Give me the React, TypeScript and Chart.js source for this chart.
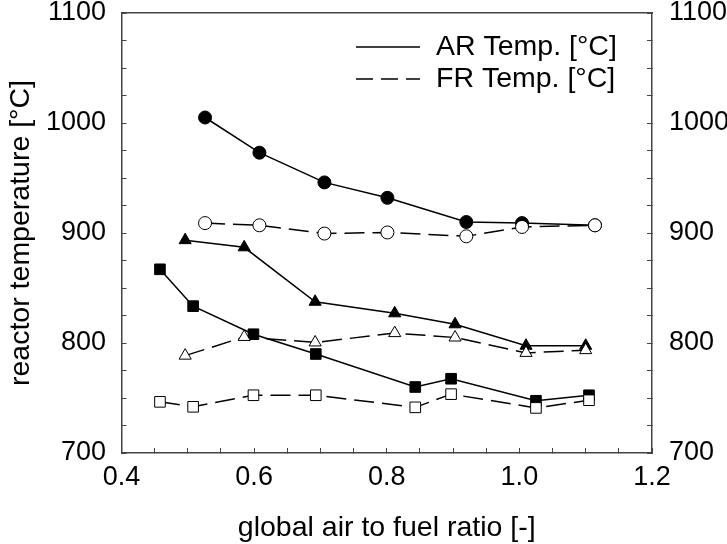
import React, { useEffect, useRef } from 'react';
import { Chart, registerables } from 'chart.js';

Chart.register(...registerables);

// ---- Data ----
const circleX = [0.526, 0.608, 0.706, 0.801, 0.92, 1.004, 1.114];
const arCircleY = [1005, 973, 946, 932, 910, 909, 907];
const frCircleY = [909, 907, 899.5, 900.5, 897, 905.5, 907];

const triangleX = [0.496, 0.585, 0.692, 0.812, 0.903, 1.01, 1.1];
const arTriangleY = [893.5, 887, 837.5, 827, 817, 797.5, 797.5];
const frTriangleY = [788.5, 805.5, 800.5, 809, 805, 791, 793.5];

const squareX = [0.458, 0.508, 0.599, 0.693, 0.843, 0.897, 1.025, 1.105];
const arSquareY = [867, 833.5, 808, 790, 760, 767.5, 747.5, 752.5];
const frSquareY = [746.5, 742, 752.5, 752.5, 741.5, 753.5, 741, 748];

const legendLabels = ['AR Temp. [°C]', 'FR Temp. [°C]'];
const xTitle = 'global air to fuel ratio [-]';
const yTitle = 'reactor temperature [°C]';
const xMin = 0.4, xMax = 1.2, xStep = 0.05, xMajor = 0.2;
const yMin = 700, yMax = 1100, yStep = 25, yMajor = 100;

const FONT = '"Liberation Sans", Arial, sans-serif';
const AXIS_COLOR = '#444';
const DASH = [20, 8];

const zip = (xs: number[], ys: number[]) => xs.map((x, i) => ({ x, y: ys[i] }));

function series(xs: number[], ys: number[], style: string, filled: boolean, dashed: boolean, radius: number) {
  return {
    data: zip(xs, ys),
    borderColor: '#000',
    borderWidth: 1.5,
    borderDash: dashed ? DASH : [],
    pointStyle: style,
    pointRadius: radius,
    pointHoverRadius: radius,
    pointBackgroundColor: filled ? '#000' : '#fff',
    pointBorderColor: '#000',
    pointBorderWidth: 1,
    tension: 0,
    fill: false,
    order: dashed ? 0 : 1,
  };
}

const isMajor = (v: number, m: number) => Math.abs(v / m - Math.round(v / m)) < 1e-6;

const insideLegend = {
  id: 'insideLegend',
  afterDraw(chart: any) {
    const ctx = chart.ctx;
    ctx.save();
    ctx.font = `28.5px ${FONT}`;
    ctx.fillStyle = '#000';
    ctx.strokeStyle = '#000';
    ctx.lineWidth = 1.5;
    ctx.textBaseline = 'middle';
    legendLabels.forEach((label, i) => {
      const y = 47 + i * 32;
      ctx.setLineDash(i === 0 ? [] : [17, 8]);
      ctx.beginPath();
      ctx.moveTo(356, y);
      ctx.lineTo(420, y);
      ctx.stroke();
      ctx.setLineDash([]);
      ctx.fillText(label, 436, y);
    });
    ctx.restore();
  },
};

export default function App() {
  const ref = useRef<HTMLCanvasElement>(null);
  useEffect(() => {
    const tickFont = { family: FONT, size: 27 };
    const titleFont = { family: FONT, size: 28.5, lineHeight: 1.1 };
    const yTicks = (padding: number) => ({
      stepSize: yStep,
      autoSkip: false,
      font: tickFont,
      color: '#000',
      padding,
      callback: (v: any) => (isMajor(Number(v), yMajor) ? String(Math.round(Number(v))) : ''),
    });
    const grid = { drawOnChartArea: false, drawTicks: true, tickLength: -5, color: AXIS_COLOR, lineWidth: 1 };
    const border = { display: true, color: AXIS_COLOR, width: 1.5 };
    const fitY = (w: number) => (s: any) => {
      s.width = w;
      s.paddingTop = 0;
      s.paddingBottom = 0;
    };
    const chart = new Chart(ref.current as HTMLCanvasElement, {
      type: 'line',
      data: {
        datasets: [
          series(circleX, arCircleY, 'circle', true, false, 6.5),
          series(triangleX, arTriangleY, 'triangle', true, false, 7),
          series(squareX, arSquareY, 'rect', true, false, 7.5),
          series(circleX, frCircleY, 'circle', false, true, 6.5),
          series(triangleX, frTriangleY, 'triangle', false, true, 7),
          series(squareX, frSquareY, 'rect', false, true, 7.5),
        ] as any,
      },
      options: {
        responsive: false,
        animation: false,
        events: [],
        layout: { padding: { top: 13, left: 0, right: 0, bottom: 0 } },
        plugins: { legend: { display: false }, tooltip: { enabled: false } },
        scales: {
          x: {
            type: 'linear',
            position: 'bottom',
            min: xMin,
            max: xMax,
            ticks: {
              stepSize: xStep,
              autoSkip: false,
              maxRotation: 0,
              font: tickFont,
              color: '#000',
              padding: 13,
              callback: (v: any) => (isMajor(Number(v), xMajor) ? Number(v).toFixed(1) : ''),
            },
            grid,
            border,
            title: { display: true, text: xTitle, font: titleFont, color: '#000', padding: { top: 0, bottom: 0 } },
            afterFit: (s: any) => {
              s.height = 91;
              s.paddingLeft = 0;
              s.paddingRight = 0;
            },
          },
          xTop: {
            type: 'linear',
            position: 'top',
            min: xMin,
            max: xMax,
            ticks: { display: false },
            grid: { display: false },
            border,
            afterFit: (s: any) => {
              s.height = 0;
              s.paddingLeft = 0;
              s.paddingRight = 0;
            },
          },
          y: {
            type: 'linear',
            position: 'left',
            min: yMin,
            max: yMax,
            ticks: yTicks(20.5),
            grid,
            border,
            title: { display: true, text: yTitle, font: titleFont, color: '#000', padding: { top: 5, bottom: 0 } },
            afterFit: fitY(121.5),
          },
          y2: {
            type: 'linear',
            position: 'right',
            min: yMin,
            max: yMax,
            ticks: yTicks(22),
            grid,
            border,
            afterFit: fitY(75),
          },
        } as any,
      },
      plugins: [insideLegend],
    });
    return () => chart.destroy();
  }, []);
  return (
    <canvas
      ref={ref}
      width={727}
      height={544}
      style={{ position: 'fixed', left: 0, top: 0, width: 727, height: 544 }}
    />
  );
}
